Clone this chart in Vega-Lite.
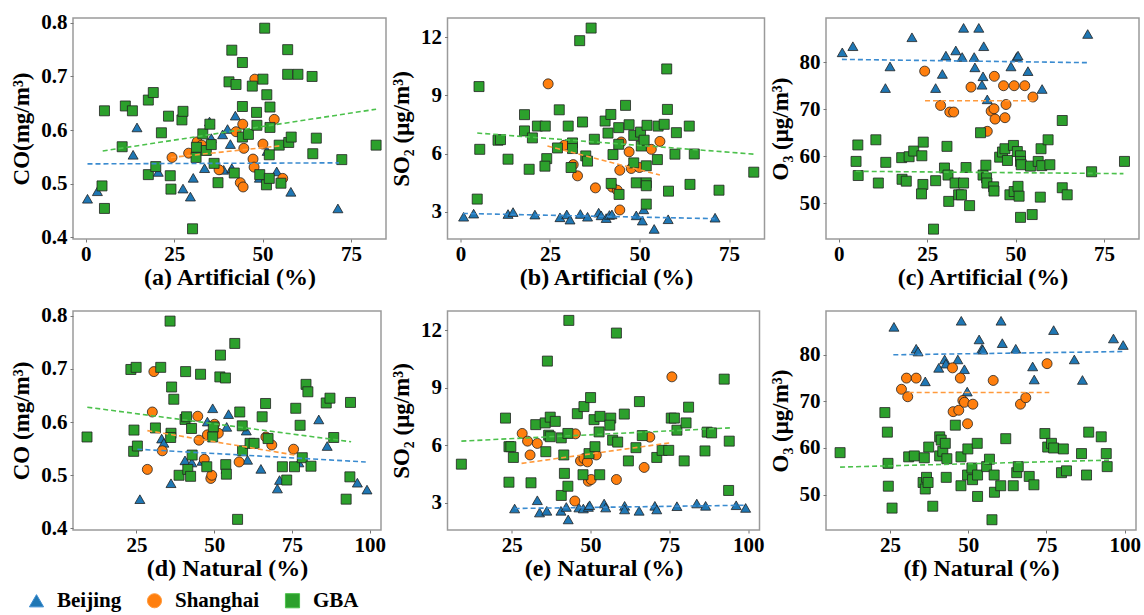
{
"$schema":"https://vega.github.io/schema/vega-lite/v6.json",
"background":"white",
"padding":{"left":10,"top":11,"right":0,"bottom":5},
"config":{
 "font":"Liberation Serif",
 "view":{"stroke":"#9a9a9a","strokeWidth":1.5},
 "axis":{"domain":false,"grid":false,"labelFont":"Liberation Serif","labelFontWeight":"bold","labelColor":"#000","titleFont":"Liberation Serif","titleFontWeight":"bold","titleColor":"#000","tickSize":3,"tickColor":"#777","tickWidth":1},
 "axisX":{"labelFontSize":21,"titleFontSize":24,"labelPadding":1,"titlePadding":1,"labelFlush":false},
 "axisY":{"labelFontSize":21,"titleFontSize":23,"labelPadding":3,"titlePadding":7},
 "legend":{"direction":"horizontal","labelFont":"Liberation Serif","labelFontSize":21,"labelFontWeight":"bold","labelColor":"#000","symbolSize":200,"symbolStrokeColor":"#222","symbolStrokeWidth":1,"columnPadding":22,"labelOffset":10}
},
"datasets":{
"a":[
{"g":"Beijing","x":0.5,"y":0.472},{"g":"Beijing","x":3.3,"y":0.486},{"g":"Beijing","x":13.4,"y":0.554},{"g":"Beijing","x":14.5,"y":0.605},{"g":"Beijing","x":20.5,"y":0.522},{"g":"Beijing","x":27.5,"y":0.491},{"g":"Beijing","x":29.6,"y":0.476},{"g":"Beijing","x":30.4,"y":0.511},{"g":"Beijing","x":33.6,"y":0.529},{"g":"Beijing","x":35,"y":0.616},{"g":"Beijing","x":35.5,"y":0.585},{"g":"Beijing","x":38.7,"y":0.592},{"g":"Beijing","x":39,"y":0.526},{"g":"Beijing","x":40.1,"y":0.602},{"g":"Beijing","x":40.9,"y":0.574},{"g":"Beijing","x":41.3,"y":0.529},{"g":"Beijing","x":42.3,"y":0.627},{"g":"Beijing","x":49.1,"y":0.511},{"g":"Beijing","x":51.3,"y":0.561},{"g":"Beijing","x":54,"y":0.523},{"g":"Beijing","x":58,"y":0.485},{"g":"Beijing","x":71.3,"y":0.454},
{"g":"Shanghai","x":24.4,"y":0.549},{"g":"Shanghai","x":29.1,"y":0.557},{"g":"Shanghai","x":31.5,"y":0.578},{"g":"Shanghai","x":32.8,"y":0.572},{"g":"Shanghai","x":37.7,"y":0.526},{"g":"Shanghai","x":42.5,"y":0.597},{"g":"Shanghai","x":44.4,"y":0.611},{"g":"Shanghai","x":44.7,"y":0.566},{"g":"Shanghai","x":43.7,"y":0.502},{"g":"Shanghai","x":44.5,"y":0.494},{"g":"Shanghai","x":47.3,"y":0.546},{"g":"Shanghai","x":47.6,"y":0.531},{"g":"Shanghai","x":47.8,"y":0.695},{"g":"Shanghai","x":50.1,"y":0.574},{"g":"Shanghai","x":53.3,"y":0.62},{"g":"Shanghai","x":55.7,"y":0.51},
{"g":"GBA","x":4.6,"y":0.496},{"g":"GBA","x":5.3,"y":0.454},{"g":"GBA","x":5.3,"y":0.636},{"g":"GBA","x":10.3,"y":0.569},{"g":"GBA","x":11.2,"y":0.645},{"g":"GBA","x":13.2,"y":0.636},{"g":"GBA","x":17.7,"y":0.656},{"g":"GBA","x":19.1,"y":0.67},{"g":"GBA","x":17.7,"y":0.517},{"g":"GBA","x":19.8,"y":0.532},{"g":"GBA","x":21.4,"y":0.595},{"g":"GBA","x":23.4,"y":0.626},{"g":"GBA","x":23.9,"y":0.515},{"g":"GBA","x":24.1,"y":0.49},{"g":"GBA","x":27.2,"y":0.619},{"g":"GBA","x":27.5,"y":0.635},{"g":"GBA","x":30.2,"y":0.416},{"g":"GBA","x":31.2,"y":0.549},{"g":"GBA","x":31.3,"y":0.568},{"g":"GBA","x":33.1,"y":0.593},{"g":"GBA","x":34.1,"y":0.562},{"g":"GBA","x":35.1,"y":0.611},{"g":"GBA","x":35.5,"y":0.573},{"g":"GBA","x":36.3,"y":0.538},{"g":"GBA","x":37.4,"y":0.502},{"g":"GBA","x":40.5,"y":0.69},{"g":"GBA","x":41.3,"y":0.749},{"g":"GBA","x":42.5,"y":0.685},{"g":"GBA","x":42,"y":0.52},{"g":"GBA","x":44.3,"y":0.726},{"g":"GBA","x":44.3,"y":0.644},{"g":"GBA","x":44.3,"y":0.587},{"g":"GBA","x":46,"y":0.592},{"g":"GBA","x":47.1,"y":0.682},{"g":"GBA","x":50.1,"y":0.695},{"g":"GBA","x":48.3,"y":0.633},{"g":"GBA","x":48.4,"y":0.609},{"g":"GBA","x":49.2,"y":0.517},{"g":"GBA","x":50.6,"y":0.79},{"g":"GBA","x":51.2,"y":0.666},{"g":"GBA","x":51.1,"y":0.498},{"g":"GBA","x":51.9,"y":0.554},{"g":"GBA","x":52.1,"y":0.643},{"g":"GBA","x":52.1,"y":0.605},{"g":"GBA","x":51.9,"y":0.51},{"g":"GBA","x":54.7,"y":0.572},{"g":"GBA","x":55.2,"y":0.501},{"g":"GBA","x":57.1,"y":0.75},{"g":"GBA","x":57.1,"y":0.704},{"g":"GBA","x":57.4,"y":0.577},{"g":"GBA","x":58.1,"y":0.587},{"g":"GBA","x":60,"y":0.704},{"g":"GBA","x":64,"y":0.7},{"g":"GBA","x":64.2,"y":0.556},{"g":"GBA","x":65.2,"y":0.585},{"g":"GBA","x":72.4,"y":0.545},{"g":"GBA","x":82.1,"y":0.572}
],
"ta":[{"g":"Beijing","x":0.5,"y":0.537},{"g":"Beijing","x":71.6,"y":0.539},{"g":"Shanghai","x":24.1,"y":0.549},{"g":"Shanghai","x":55.4,"y":0.571},{"g":"GBA","x":4.8,"y":0.561},{"g":"GBA","x":82.1,"y":0.639}],
"b":[
{"g":"Beijing","x":0.9,"y":2.74},{"g":"Beijing","x":3.7,"y":2.9},{"g":"Beijing","x":13.3,"y":2.88},{"g":"Beijing","x":14.7,"y":2.98},{"g":"Beijing","x":20.8,"y":2.85},{"g":"Beijing","x":27.8,"y":2.71},{"g":"Beijing","x":29.7,"y":2.86},{"g":"Beijing","x":30.6,"y":2.59},{"g":"Beijing","x":33.5,"y":2.88},{"g":"Beijing","x":35.5,"y":2.74},{"g":"Beijing","x":38.6,"y":2.95},{"g":"Beijing","x":39.3,"y":2.81},{"g":"Beijing","x":40.7,"y":2.67},{"g":"Beijing","x":41.6,"y":2.83},{"g":"Beijing","x":42.3,"y":2.86},{"g":"Beijing","x":49.1,"y":2.81},{"g":"Beijing","x":50.8,"y":2.54},{"g":"Beijing","x":51.2,"y":3.12},{"g":"Beijing","x":54.1,"y":2.11},{"g":"Beijing","x":58,"y":2.61},{"g":"Beijing","x":71.1,"y":2.69},
{"g":"Shanghai","x":24.5,"y":9.6},{"g":"Shanghai","x":29,"y":6.43},{"g":"Shanghai","x":31.5,"y":5.43},{"g":"Shanghai","x":32.7,"y":4.85},{"g":"Shanghai","x":37.7,"y":4.23},{"g":"Shanghai","x":42.4,"y":4.27},{"g":"Shanghai","x":43.8,"y":4.11},{"g":"Shanghai","x":44.5,"y":3.09},{"g":"Shanghai","x":44.5,"y":5.14},{"g":"Shanghai","x":44.9,"y":6.6},{"g":"Shanghai","x":47.1,"y":6.09},{"g":"Shanghai","x":47.7,"y":5.23},{"g":"Shanghai","x":50,"y":5.28},{"g":"Shanghai","x":53.3,"y":6.22},{"g":"Shanghai","x":55.7,"y":6.63},
{"g":"GBA","x":5.2,"y":9.46},{"g":"GBA","x":5.4,"y":6.22},{"g":"GBA","x":4.7,"y":3.65},{"g":"GBA","x":10.5,"y":6.69},{"g":"GBA","x":11.2,"y":6.72},{"g":"GBA","x":13.3,"y":5.71},{"g":"GBA","x":17.9,"y":8.01},{"g":"GBA","x":17.9,"y":7.17},{"g":"GBA","x":19.2,"y":5.19},{"g":"GBA","x":20.1,"y":6.81},{"g":"GBA","x":21.5,"y":7.42},{"g":"GBA","x":23.7,"y":7.42},{"g":"GBA","x":24.1,"y":5.74},{"g":"GBA","x":23.6,"y":5.35},{"g":"GBA","x":27.6,"y":8.26},{"g":"GBA","x":27.1,"y":6.29},{"g":"GBA","x":30.1,"y":7.42},{"g":"GBA","x":31.3,"y":6.55},{"g":"GBA","x":31.3,"y":6.26},{"g":"GBA","x":30.9,"y":5.28},{"g":"GBA","x":33.3,"y":11.83},{"g":"GBA","x":34.1,"y":7.63},{"g":"GBA","x":35,"y":5.88},{"g":"GBA","x":35.5,"y":5.61},{"g":"GBA","x":36.5,"y":12.48},{"g":"GBA","x":37.4,"y":6.74},{"g":"GBA","x":40.4,"y":7.68},{"g":"GBA","x":41.2,"y":7.06},{"g":"GBA","x":42,"y":8.02},{"g":"GBA","x":42.6,"y":5.95},{"g":"GBA","x":42.1,"y":4.46},{"g":"GBA","x":44.2,"y":7.34},{"g":"GBA","x":44.2,"y":6.48},{"g":"GBA","x":44.3,"y":3.89},{"g":"GBA","x":46.1,"y":8.49},{"g":"GBA","x":47.1,"y":7.49},{"g":"GBA","x":48.4,"y":6.94},{"g":"GBA","x":48.4,"y":5.52},{"g":"GBA","x":49.1,"y":4.49},{"g":"GBA","x":50.3,"y":7.11},{"g":"GBA","x":50.5,"y":6.39},{"g":"GBA","x":51.3,"y":6.69},{"g":"GBA","x":51.9,"y":4.49},{"g":"GBA","x":51.9,"y":5.37},{"g":"GBA","x":51.9,"y":3.39},{"g":"GBA","x":51.9,"y":4.34},{"g":"GBA","x":52.1,"y":7.46},{"g":"GBA","x":55.2,"y":7.42},{"g":"GBA","x":55,"y":5.69},{"g":"GBA","x":56.9,"y":7.51},{"g":"GBA","x":57.6,"y":10.37},{"g":"GBA","x":57.8,"y":8.28},{"g":"GBA","x":58.1,"y":4.06},{"g":"GBA","x":60.3,"y":7.08},{"g":"GBA","x":59.9,"y":5.97},{"g":"GBA","x":63.9,"y":7.42},{"g":"GBA","x":64.1,"y":4.41},{"g":"GBA","x":65.3,"y":5.98},{"g":"GBA","x":72.2,"y":4.11},{"g":"GBA","x":81.9,"y":5.04}
],
"tb":[{"g":"Beijing","x":0.7,"y":2.91},{"g":"Beijing","x":71.1,"y":2.64},{"g":"Shanghai","x":24.3,"y":6.39},{"g":"Shanghai","x":55.7,"y":4.89},{"g":"GBA","x":4.7,"y":7.06},{"g":"GBA","x":82.1,"y":5.97}],
"c":[
{"g":"Beijing","x":1,"y":82.1},{"g":"Beijing","x":4,"y":83.4},{"g":"Beijing","x":13.2,"y":74.5},{"g":"Beijing","x":14.5,"y":79.1},{"g":"Beijing","x":20.7,"y":85.3},{"g":"Beijing","x":27.4,"y":74.5},{"g":"Beijing","x":29.3,"y":77.5},{"g":"Beijing","x":30.3,"y":81.4},{"g":"Beijing","x":33.1,"y":82.5},{"g":"Beijing","x":34.9,"y":81.1},{"g":"Beijing","x":35.3,"y":87.3},{"g":"Beijing","x":38.3,"y":81.1},{"g":"Beijing","x":38.5,"y":78.9},{"g":"Beijing","x":39.6,"y":87.3},{"g":"Beijing","x":40.5,"y":75.2},{"g":"Beijing","x":40.8,"y":77},{"g":"Beijing","x":41,"y":83.4},{"g":"Beijing","x":42,"y":72.1},{"g":"Beijing","x":48.7,"y":79.1},{"g":"Beijing","x":50.3,"y":81.1},{"g":"Beijing","x":50.7,"y":81.4},{"g":"Beijing","x":53.5,"y":78.1},{"g":"Beijing","x":57.5,"y":74.3},{"g":"Beijing","x":70.4,"y":86},
{"g":"Shanghai","x":24.3,"y":78.1},{"g":"Shanghai","x":28.8,"y":70.8},{"g":"Shanghai","x":31.4,"y":69.4},{"g":"Shanghai","x":32.5,"y":69.4},{"g":"Shanghai","x":37.4,"y":74.7},{"g":"Shanghai","x":42,"y":65.3},{"g":"Shanghai","x":43.1,"y":69.6},{"g":"Shanghai","x":43.9,"y":70.1},{"g":"Shanghai","x":44.2,"y":67.9},{"g":"Shanghai","x":44,"y":77},{"g":"Shanghai","x":46.6,"y":75},{"g":"Shanghai","x":47,"y":68.2},{"g":"Shanghai","x":47.3,"y":71},{"g":"Shanghai","x":49.6,"y":75},{"g":"Shanghai","x":52.6,"y":75},{"g":"Shanghai","x":54.9,"y":72.6},
{"g":"GBA","x":4.9,"y":58.9},{"g":"GBA","x":5.4,"y":62.4},{"g":"GBA","x":5.5,"y":55.9},{"g":"GBA","x":10.5,"y":63.5},{"g":"GBA","x":11.2,"y":54.3},{"g":"GBA","x":13.3,"y":58.7},{"g":"GBA","x":17.8,"y":59.7},{"g":"GBA","x":17.9,"y":55.1},{"g":"GBA","x":19.1,"y":54.7},{"g":"GBA","x":19.9,"y":59.9},{"g":"GBA","x":21.2,"y":61.1},{"g":"GBA","x":23.5,"y":60.1},{"g":"GBA","x":23.9,"y":63},{"g":"GBA","x":23.8,"y":54},{"g":"GBA","x":23.4,"y":52},{"g":"GBA","x":27.4,"y":54.8},{"g":"GBA","x":26.8,"y":44.5},{"g":"GBA","x":29.9,"y":57.5},{"g":"GBA","x":30.6,"y":62.1},{"g":"GBA","x":30.9,"y":56},{"g":"GBA","x":31.1,"y":50.4},{"g":"GBA","x":32.9,"y":54.3},{"g":"GBA","x":33.9,"y":51.8},{"g":"GBA","x":34.7,"y":51.8},{"g":"GBA","x":35.3,"y":54.3},{"g":"GBA","x":36,"y":57.6},{"g":"GBA","x":37,"y":49.5},{"g":"GBA","x":40.1,"y":65},{"g":"GBA","x":40.8,"y":56},{"g":"GBA","x":41.6,"y":58.1},{"g":"GBA","x":41.8,"y":55.4},{"g":"GBA","x":41.9,"y":54.3},{"g":"GBA","x":43.8,"y":53.5},{"g":"GBA","x":43.9,"y":52.6},{"g":"GBA","x":45.5,"y":59.8},{"g":"GBA","x":46.3,"y":60.9},{"g":"GBA","x":47,"y":61.6},{"g":"GBA","x":47.7,"y":59.1},{"g":"GBA","x":48.4,"y":51.8},{"g":"GBA","x":49.4,"y":62.3},{"g":"GBA","x":49.6,"y":52.5},{"g":"GBA","x":50.5,"y":61},{"g":"GBA","x":50.7,"y":53.6},{"g":"GBA","x":51,"y":51.5},{"g":"GBA","x":51.4,"y":60.1},{"g":"GBA","x":51.4,"y":58.9},{"g":"GBA","x":51.6,"y":58.2},{"g":"GBA","x":51.4,"y":47},{"g":"GBA","x":54.2,"y":57.9},{"g":"GBA","x":54.7,"y":47.6},{"g":"GBA","x":56.4,"y":58.9},{"g":"GBA","x":57.2,"y":61.6},{"g":"GBA","x":57,"y":51.3},{"g":"GBA","x":57.4,"y":58},{"g":"GBA","x":59.2,"y":63.5},{"g":"GBA","x":59.7,"y":58.2},{"g":"GBA","x":63.2,"y":67.6},{"g":"GBA","x":63.2,"y":53.3},{"g":"GBA","x":64.6,"y":51.8},{"g":"GBA","x":71.5,"y":56.7},{"g":"GBA","x":80.8,"y":58.9}
],
"tc":[{"g":"Beijing","x":0.9,"y":80.6},{"g":"Beijing","x":70.4,"y":79.9},{"g":"Shanghai","x":24.4,"y":71.8},{"g":"Shanghai","x":55.1,"y":71.8},{"g":"GBA","x":4.8,"y":56.8},{"g":"GBA","x":80.5,"y":56.3}],
"d":[
{"g":"Beijing","x":26.1,"y":0.455},{"g":"Beijing","x":36.1,"y":0.485},{"g":"Beijing","x":33.1,"y":0.569},{"g":"Beijing","x":33.8,"y":0.561},{"g":"Beijing","x":40.6,"y":0.528},{"g":"Beijing","x":42.8,"y":0.524},{"g":"Beijing","x":46.1,"y":0.527},{"g":"Beijing","x":47.8,"y":0.601},{"g":"Beijing","x":49.5,"y":0.626},{"g":"Beijing","x":54,"y":0.591},{"g":"Beijing","x":54.6,"y":0.615},{"g":"Beijing","x":53.8,"y":0.512},{"g":"Beijing","x":60.3,"y":0.584},{"g":"Beijing","x":60.7,"y":0.529},{"g":"Beijing","x":65,"y":0.512},{"g":"Beijing","x":70.3,"y":0.475},{"g":"Beijing","x":71,"y":0.491},{"g":"Beijing","x":77.2,"y":0.524},{"g":"Beijing","x":86.3,"y":0.555},{"g":"Beijing","x":83.6,"y":0.605},{"g":"Beijing","x":96,"y":0.486},{"g":"Beijing","x":99.1,"y":0.473},
{"g":"Shanghai","x":28.5,"y":0.511},{"g":"Shanghai","x":30.1,"y":0.619},{"g":"Shanghai","x":30.6,"y":0.695},{"g":"Shanghai","x":33.3,"y":0.546},{"g":"Shanghai","x":44.7,"y":0.611},{"g":"Shanghai","x":45.1,"y":0.566},{"g":"Shanghai","x":46.8,"y":0.53},{"g":"Shanghai","x":47.8,"y":0.576},{"g":"Shanghai","x":48.9,"y":0.494},{"g":"Shanghai","x":49.2,"y":0.5},{"g":"Shanghai","x":50.1,"y":0.596},{"g":"Shanghai","x":51.3,"y":0.579},{"g":"Shanghai","x":58,"y":0.525},{"g":"Shanghai","x":66.6,"y":0.572},{"g":"Shanghai","x":68.5,"y":0.557},{"g":"Shanghai","x":75.5,"y":0.549},
{"g":"GBA","x":9.1,"y":0.572},{"g":"GBA","x":23.2,"y":0.699},{"g":"GBA","x":24.9,"y":0.703},{"g":"GBA","x":24.2,"y":0.585},{"g":"GBA","x":24.1,"y":0.545},{"g":"GBA","x":25.3,"y":0.555},{"g":"GBA","x":31.1,"y":0.589},{"g":"GBA","x":32.8,"y":0.703},{"g":"GBA","x":35.8,"y":0.79},{"g":"GBA","x":36.3,"y":0.666},{"g":"GBA","x":37,"y":0.643},{"g":"GBA","x":36.1,"y":0.579},{"g":"GBA","x":36,"y":0.571},{"g":"GBA","x":38.7,"y":0.5},{"g":"GBA","x":40.6,"y":0.605},{"g":"GBA","x":41.1,"y":0.61},{"g":"GBA","x":40.8,"y":0.695},{"g":"GBA","x":41.5,"y":0.511},{"g":"GBA","x":42.4,"y":0.498},{"g":"GBA","x":42.7,"y":0.588},{"g":"GBA","x":42.9,"y":0.538},{"g":"GBA","x":45.6,"y":0.69},{"g":"GBA","x":47.6,"y":0.516},{"g":"GBA","x":49.7,"y":0.591},{"g":"GBA","x":49.5,"y":0.572},{"g":"GBA","x":52,"y":0.726},{"g":"GBA","x":51.8,"y":0.685},{"g":"GBA","x":53.6,"y":0.683},{"g":"GBA","x":53.7,"y":0.52},{"g":"GBA","x":53.9,"y":0.502},{"g":"GBA","x":56.6,"y":0.748},{"g":"GBA","x":57.5,"y":0.417},{"g":"GBA","x":58.2,"y":0.619},{"g":"GBA","x":59,"y":0.593},{"g":"GBA","x":59.1,"y":0.546},{"g":"GBA","x":61.5,"y":0.56},{"g":"GBA","x":62.8,"y":0.56},{"g":"GBA","x":65.4,"y":0.61},{"g":"GBA","x":66.5,"y":0.635},{"g":"GBA","x":67.3,"y":0.569},{"g":"GBA","x":71.9,"y":0.516},{"g":"GBA","x":73.3,"y":0.491},{"g":"GBA","x":75.8,"y":0.516},{"g":"GBA","x":76.2,"y":0.626},{"g":"GBA","x":77.6,"y":0.594},{"g":"GBA","x":78.3,"y":0.533},{"g":"GBA","x":79.5,"y":0.671},{"g":"GBA","x":80.1,"y":0.657},{"g":"GBA","x":81.1,"y":0.517},{"g":"GBA","x":86,"y":0.636},{"g":"GBA","x":87.2,"y":0.645},{"g":"GBA","x":88.4,"y":0.571},{"g":"GBA","x":92.4,"y":0.455},{"g":"GBA","x":93.6,"y":0.497},{"g":"GBA","x":93.8,"y":0.637}
],
"td":[{"g":"Beijing","x":25.3,"y":0.549},{"g":"Beijing","x":98.7,"y":0.525},{"g":"Shanghai","x":28.5,"y":0.584},{"g":"Shanghai","x":75.9,"y":0.538},{"g":"GBA","x":9.2,"y":0.628},{"g":"GBA","x":94,"y":0.563}],
"e":[
{"g":"Beijing","x":25.9,"y":2.71},{"g":"Beijing","x":33.1,"y":3.14},{"g":"Beijing","x":33.8,"y":2.5},{"g":"Beijing","x":36.1,"y":2.59},{"g":"Beijing","x":40.6,"y":2.59},{"g":"Beijing","x":42.3,"y":2.79},{"g":"Beijing","x":42.9,"y":2.14},{"g":"Beijing","x":46.3,"y":2.76},{"g":"Beijing","x":47.7,"y":2.71},{"g":"Beijing","x":49.3,"y":2.79},{"g":"Beijing","x":49.7,"y":2.88},{"g":"Beijing","x":54.3,"y":2.97},{"g":"Beijing","x":54.8,"y":2.76},{"g":"Beijing","x":60.8,"y":2.85},{"g":"Beijing","x":60.8,"y":2.66},{"g":"Beijing","x":65.4,"y":2.59},{"g":"Beijing","x":70.4,"y":2.85},{"g":"Beijing","x":71,"y":2.66},{"g":"Beijing","x":77.4,"y":2.83},{"g":"Beijing","x":83.7,"y":2.97},{"g":"Beijing","x":86.5,"y":2.85},{"g":"Beijing","x":96.2,"y":2.88},{"g":"Beijing","x":99.2,"y":2.74},
{"g":"Shanghai","x":28.3,"y":6.62},{"g":"Shanghai","x":30,"y":6.22},{"g":"Shanghai","x":30.8,"y":5.5},{"g":"Shanghai","x":33.1,"y":6.1},{"g":"Shanghai","x":45,"y":3.1},{"g":"Shanghai","x":45.2,"y":6.6},{"g":"Shanghai","x":46.8,"y":5.19},{"g":"Shanghai","x":47.9,"y":5.31},{"g":"Shanghai","x":49,"y":5.14},{"g":"Shanghai","x":49.3,"y":4.13},{"g":"Shanghai","x":50.2,"y":4.22},{"g":"Shanghai","x":51.8,"y":5.5},{"g":"Shanghai","x":58.2,"y":4.22},{"g":"Shanghai","x":67,"y":4.85},{"g":"Shanghai","x":68.8,"y":6.43},{"g":"Shanghai","x":75.8,"y":9.57},
{"g":"GBA","x":9,"y":5.02},{"g":"GBA","x":23,"y":7.42},{"g":"GBA","x":24.1,"y":5.93},{"g":"GBA","x":24.1,"y":4.08},{"g":"GBA","x":24.7,"y":5.93},{"g":"GBA","x":25.5,"y":5.37},{"g":"GBA","x":31.1,"y":4.05},{"g":"GBA","x":32.6,"y":7.08},{"g":"GBA","x":35.6,"y":7.17},{"g":"GBA","x":35.8,"y":5.67},{"g":"GBA","x":36.3,"y":10.39},{"g":"GBA","x":36.7,"y":6.53},{"g":"GBA","x":37.2,"y":6.45},{"g":"GBA","x":37.2,"y":7.47},{"g":"GBA","x":38.8,"y":7.25},{"g":"GBA","x":40.7,"y":6.39},{"g":"GBA","x":40.7,"y":3.39},{"g":"GBA","x":41.5,"y":5.5},{"g":"GBA","x":41.7,"y":4.54},{"g":"GBA","x":42.8,"y":3.87},{"g":"GBA","x":43.1,"y":12.51},{"g":"GBA","x":42.8,"y":6.62},{"g":"GBA","x":45.8,"y":7.65},{"g":"GBA","x":47.6,"y":4.47},{"g":"GBA","x":47.9,"y":8.02},{"g":"GBA","x":49.5,"y":5.57},{"g":"GBA","x":50,"y":8.49},{"g":"GBA","x":51.1,"y":7.34},{"g":"GBA","x":51.4,"y":5.93},{"g":"GBA","x":52.7,"y":6.7},{"g":"GBA","x":53,"y":7.51},{"g":"GBA","x":52.9,"y":4.47},{"g":"GBA","x":56.4,"y":7.42},{"g":"GBA","x":56.1,"y":7.05},{"g":"GBA","x":57,"y":6.27},{"g":"GBA","x":58.2,"y":11.85},{"g":"GBA","x":58.6,"y":6.17},{"g":"GBA","x":60.7,"y":7.63},{"g":"GBA","x":62,"y":5.19},{"g":"GBA","x":64.4,"y":5.88},{"g":"GBA","x":65.5,"y":8.28},{"g":"GBA","x":66.4,"y":6.51},{"g":"GBA","x":71,"y":5.37},{"g":"GBA","x":72.7,"y":5.74},{"g":"GBA","x":74.8,"y":5.74},{"g":"GBA","x":75.6,"y":7.42},{"g":"GBA","x":76.6,"y":7.42},{"g":"GBA","x":77.4,"y":6.79},{"g":"GBA","x":79.7,"y":5.19},{"g":"GBA","x":80.3,"y":7.17},{"g":"GBA","x":81.1,"y":7.99},{"g":"GBA","x":86.3,"y":5.71},{"g":"GBA","x":87,"y":6.69},{"g":"GBA","x":88.4,"y":6.65},{"g":"GBA","x":92.4,"y":9.45},{"g":"GBA","x":93.8,"y":3.65},{"g":"GBA","x":94,"y":6.22}
],
"te":[{"g":"Beijing","x":25.9,"y":2.71},{"g":"Beijing","x":99.2,"y":2.88},{"g":"Shanghai","x":28.1,"y":5.06},{"g":"Shanghai","x":75.6,"y":6.14},{"g":"GBA","x":9,"y":6.22},{"g":"GBA","x":94.2,"y":6.91}],
"f":[
{"g":"Beijing","x":26.3,"y":86},{"g":"Beijing","x":33.4,"y":81.3},{"g":"Beijing","x":34,"y":80.7},{"g":"Beijing","x":40.6,"y":77.2},{"g":"Beijing","x":36.3,"y":74.3},{"g":"Beijing","x":42.5,"y":79},{"g":"Beijing","x":42.9,"y":78.1},{"g":"Beijing","x":47.8,"y":87.3},{"g":"Beijing","x":46.7,"y":79},{"g":"Beijing","x":48.8,"y":76.9},{"g":"Beijing","x":49.7,"y":72.1},{"g":"Beijing","x":53.5,"y":83.3},{"g":"Beijing","x":54.4,"y":81.3},{"g":"Beijing","x":54.7,"y":81.1},{"g":"Beijing","x":60.5,"y":87.3},{"g":"Beijing","x":60.9,"y":82.5},{"g":"Beijing","x":65.2,"y":81.3},{"g":"Beijing","x":70.6,"y":77.5},{"g":"Beijing","x":71.1,"y":74.7},{"g":"Beijing","x":77.3,"y":85.3},{"g":"Beijing","x":83.9,"y":79},{"g":"Beijing","x":86.5,"y":74.6},{"g":"Beijing","x":96.4,"y":83.5},{"g":"Beijing","x":99.5,"y":82.1},
{"g":"Shanghai","x":28.7,"y":72.6},{"g":"Shanghai","x":30.3,"y":75},{"g":"Shanghai","x":30.7,"y":71},{"g":"Shanghai","x":33.4,"y":75},{"g":"Shanghai","x":45,"y":77.2},{"g":"Shanghai","x":45.2,"y":67.8},{"g":"Shanghai","x":47,"y":68.1},{"g":"Shanghai","x":47.5,"y":75},{"g":"Shanghai","x":48.3,"y":70.2},{"g":"Shanghai","x":48.8,"y":69.8},{"g":"Shanghai","x":49.8,"y":65.2},{"g":"Shanghai","x":51.5,"y":69.4},{"g":"Shanghai","x":58,"y":74.5},{"g":"Shanghai","x":66.7,"y":69.4},{"g":"Shanghai","x":68.4,"y":70.8},{"g":"Shanghai","x":75.2,"y":78.1},
{"g":"GBA","x":9.1,"y":59},{"g":"GBA","x":23.4,"y":67.6},{"g":"GBA","x":24.2,"y":63.4},{"g":"GBA","x":24.4,"y":56.7},{"g":"GBA","x":24.5,"y":51.8},{"g":"GBA","x":25.7,"y":47.1},{"g":"GBA","x":31,"y":58.1},{"g":"GBA","x":32.8,"y":58.3},{"g":"GBA","x":36,"y":57.9},{"g":"GBA","x":35.6,"y":52.6},{"g":"GBA","x":36.3,"y":51.2},{"g":"GBA","x":36.7,"y":53.7},{"g":"GBA","x":37.2,"y":52.6},{"g":"GBA","x":37.4,"y":60.2},{"g":"GBA","x":38.7,"y":47.5},{"g":"GBA","x":40.9,"y":62.4},{"g":"GBA","x":41.4,"y":61.7},{"g":"GBA","x":40.9,"y":58.3},{"g":"GBA","x":41.9,"y":59.3},{"g":"GBA","x":42.7,"y":61},{"g":"GBA","x":43.2,"y":57.7},{"g":"GBA","x":43,"y":53.7},{"g":"GBA","x":45.9,"y":64.9},{"g":"GBA","x":47.7,"y":58.1},{"g":"GBA","x":47.7,"y":51.9},{"g":"GBA","x":49.9,"y":59.8},{"g":"GBA","x":49.8,"y":54.2},{"g":"GBA","x":51.2,"y":55.7},{"g":"GBA","x":51.4,"y":53.2},{"g":"GBA","x":52.9,"y":61},{"g":"GBA","x":53,"y":54.2},{"g":"GBA","x":53,"y":49.6},{"g":"GBA","x":55.9,"y":56},{"g":"GBA","x":56.8,"y":57.6},{"g":"GBA","x":57.6,"y":44.6},{"g":"GBA","x":58.3,"y":54.2},{"g":"GBA","x":58.4,"y":50.5},{"g":"GBA","x":60.4,"y":51.9},{"g":"GBA","x":62,"y":62},{"g":"GBA","x":64.4,"y":51.9},{"g":"GBA","x":65.5,"y":54.7},{"g":"GBA","x":66,"y":56},{"g":"GBA","x":69.5,"y":53.9},{"g":"GBA","x":71,"y":52.1},{"g":"GBA","x":74.5,"y":63.1},{"g":"GBA","x":75.4,"y":60.2},{"g":"GBA","x":76.6,"y":61},{"g":"GBA","x":77.3,"y":60},{"g":"GBA","x":80.4,"y":59.8},{"g":"GBA","x":79.8,"y":54.7},{"g":"GBA","x":81.4,"y":55.1},{"g":"GBA","x":86.2,"y":58.8},{"g":"GBA","x":87.8,"y":54.2},{"g":"GBA","x":88.5,"y":63.4},{"g":"GBA","x":92.5,"y":62.4},{"g":"GBA","x":94.1,"y":58.8},{"g":"GBA","x":94.4,"y":56}
],
"tf":[{"g":"Beijing","x":26.1,"y":80},{"g":"Beijing","x":99.5,"y":80.7},{"g":"Shanghai","x":31,"y":71.9},{"g":"Shanghai","x":75.9,"y":71.9},{"g":"GBA","x":9.1,"y":55.9},{"g":"GBA","x":95.2,"y":57.4}]
},
"concat":[
{"width":313,"height":221,
 "encoding":{"x":{"field":"x","type":"quantitative","scale":{"domain":[-3.6,84.9],"nice":false,"zero":false},"axis":{"values":[0,25,50,75]},"title":"(a) Artificial (%)"},
  "y":{"field":"y","type":"quantitative","scale":{"domain":[0.397,0.809],"nice":false,"zero":false},"axis":{"values":[0.4,0.5,0.6,0.7,0.8],"format":".1f"},"title":"CO(mg/m³)"}},
 "layer":[
  {"data":{"name":"a"},"mark":{"type":"point","filled":true,"size":100,"opacity":1,"stroke":"#222","strokeWidth":0.8},
   "encoding":{"color":{"field":"g","type":"nominal","scale":{"domain":["Beijing","Shanghai","GBA"],"range":["#1f77b4","#ff7f0e","#2ca02c"]},"title":null,"legend":{"orient":"none","legendX":-47,"legendY":572,"title":null}},
    "shape":{"field":"g","type":"nominal","scale":{"domain":["Beijing","Shanghai","GBA"],"range":["triangle-up","circle","square"]},"title":null,"legend":{"orient":"none","legendX":-47,"legendY":572,"title":null}}}},
  {"data":{"name":"ta"},"mark":{"type":"line","strokeDash":[5,3],"strokeWidth":1.6},
   "encoding":{"stroke":{"field":"g","type":"nominal","scale":{"domain":["Beijing","Shanghai","GBA"],"range":["#3a8bd0","#ff9a3c","#4cc14c"]},"legend":null}}}
 ]},
{"width":317,"height":221,
 "encoding":{"x":{"field":"x","type":"quantitative","scale":{"domain":[-3.6,84.9],"nice":false,"zero":false},"axis":{"values":[0,25,50,75]},"title":"(b) Artificial (%)"},
  "y":{"field":"y","type":"quantitative","scale":{"domain":[1.59,13.0],"nice":false,"zero":false},"axis":{"values":[3,6,9,12]},"title":"SO₂ (μg/m³)"}},
 "layer":[
  {"data":{"name":"b"},"mark":{"type":"point","filled":true,"size":100,"opacity":1,"stroke":"#222","strokeWidth":0.8},
   "encoding":{"color":{"field":"g","type":"nominal","title":null},"shape":{"field":"g","type":"nominal","title":null}}},
  {"data":{"name":"tb"},"mark":{"type":"line","strokeDash":[5,3],"strokeWidth":1.6},
   "encoding":{"stroke":{"field":"g","type":"nominal","legend":null}}}
 ]},
{"width":313,"height":221,
 "encoding":{"x":{"field":"x","type":"quantitative","scale":{"domain":[-3.6,84.9],"nice":false,"zero":false},"axis":{"values":[0,25,50,75]},"title":"(c) Artificial (%)"},
  "y":{"field":"y","type":"quantitative","scale":{"domain":[42.4,89.4],"nice":false,"zero":false},"axis":{"values":[50,60,70,80]},"title":"O₃ (μg/m³)"}},
 "layer":[
  {"data":{"name":"c"},"mark":{"type":"point","filled":true,"size":100,"opacity":1,"stroke":"#222","strokeWidth":0.8},
   "encoding":{"color":{"field":"g","type":"nominal","title":null},"shape":{"field":"g","type":"nominal","title":null}}},
  {"data":{"name":"tc"},"mark":{"type":"line","strokeDash":[5,3],"strokeWidth":1.6},
   "encoding":{"stroke":{"field":"g","type":"nominal","legend":null}}}
 ]},
{"width":308,"height":219,
 "encoding":{"x":{"field":"x","type":"quantitative","scale":{"domain":[4.6,103.6],"nice":false,"zero":false},"axis":{"values":[25,50,75,100]},"title":"(d) Natural (%)"},
  "y":{"field":"y","type":"quantitative","scale":{"domain":[0.397,0.809],"nice":false,"zero":false},"axis":{"values":[0.4,0.5,0.6,0.7,0.8],"format":".1f"},"title":"CO (mg/m³)"}},
 "layer":[
  {"data":{"name":"d"},"mark":{"type":"point","filled":true,"size":100,"opacity":1,"stroke":"#222","strokeWidth":0.8},
   "encoding":{"color":{"field":"g","type":"nominal","title":null},"shape":{"field":"g","type":"nominal","title":null}}},
  {"data":{"name":"td"},"mark":{"type":"line","strokeDash":[5,3],"strokeWidth":1.6},
   "encoding":{"stroke":{"field":"g","type":"nominal","legend":null}}}
 ]},
{"width":312,"height":219,
 "encoding":{"x":{"field":"x","type":"quantitative","scale":{"domain":[4.6,103.6],"nice":false,"zero":false},"axis":{"values":[25,50,75,100]},"title":"(e) Natural (%)"},
  "y":{"field":"y","type":"quantitative","scale":{"domain":[1.59,13.0],"nice":false,"zero":false},"axis":{"values":[3,6,9,12]},"title":"SO₂ (μg/m³)"}},
 "layer":[
  {"data":{"name":"e"},"mark":{"type":"point","filled":true,"size":100,"opacity":1,"stroke":"#222","strokeWidth":0.8},
   "encoding":{"color":{"field":"g","type":"nominal","title":null},"shape":{"field":"g","type":"nominal","title":null}}},
  {"data":{"name":"te"},"mark":{"type":"line","strokeDash":[5,3],"strokeWidth":1.6},
   "encoding":{"stroke":{"field":"g","type":"nominal","legend":null}}}
 ]},
{"width":310,"height":219,
 "encoding":{"x":{"field":"x","type":"quantitative","scale":{"domain":[4.6,103.6],"nice":false,"zero":false},"axis":{"values":[25,50,75,100]},"title":"(f) Natural (%)"},
  "y":{"field":"y","type":"quantitative","scale":{"domain":[42.4,89.4],"nice":false,"zero":false},"axis":{"values":[50,60,70,80]},"title":"O₃ (μg/m³)"}},
 "layer":[
  {"data":{"name":"f"},"mark":{"type":"point","filled":true,"size":100,"opacity":1,"stroke":"#222","strokeWidth":0.8},
   "encoding":{"color":{"field":"g","type":"nominal","title":null},"shape":{"field":"g","type":"nominal","title":null}}},
  {"data":{"name":"tf"},"mark":{"type":"line","strokeDash":[5,3],"strokeWidth":1.6},
   "encoding":{"stroke":{"field":"g","type":"nominal","legend":null}}}
 ]}
],
"columns":3,
"spacing":{"row":72,"column":61.5},
"bounds":"flush"
}
